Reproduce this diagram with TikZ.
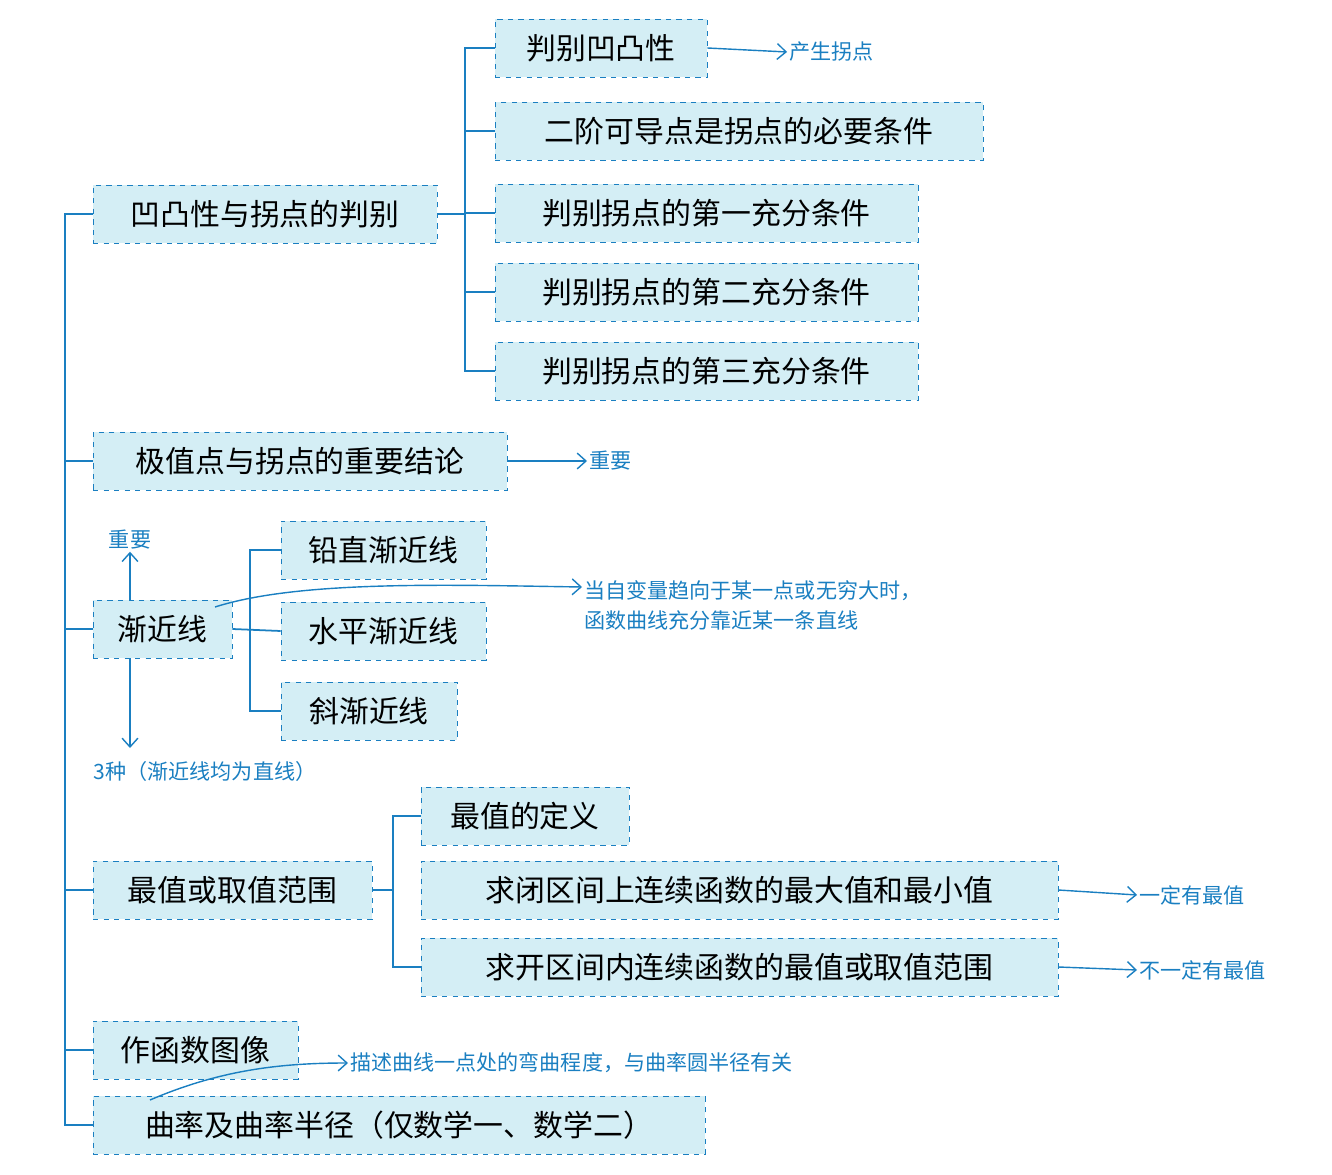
\documentclass[tikz,border=0pt]{standalone}
\usepackage{fontspec}
\setmainfont{Noto Sans CJK SC}
\usetikzlibrary{arrows.meta}
\definecolor{lineblue}{HTML}{1A7FC1}
\definecolor{boxfill}{HTML}{D4EEF5}
\tikzset{
  box/.style={draw=lineblue, dashed, fill=boxfill, minimum height=1.16cm, inner sep=2pt, font=\fontsize{17}{20}\selectfont},
  link/.style={draw=lineblue, line width=1pt},
  note/.style={-{Straight Barb[length=5pt,width=9pt]}, draw=lineblue, line width=0.8pt},
  notetext/.style={text=lineblue, font=\fontsize{12}{17}\selectfont, anchor=west, inner sep=1pt, align=left}
}
\begin{document}
\begin{tikzpicture}[x=0.02cm, y=-0.02cm]
  \useasboundingbox (0,0) rectangle (1332,1175);
  % main boxes
  \node[box, minimum width=6.88cm] (A) at (265,214) {凹凸性与拐点的判别};
  \node[box, minimum width=8.28cm] (B) at (300,461) {极值点与拐点的重要结论};
  \node[box, minimum width=2.78cm] (C) at (162.5,629) {渐近线};
  \node[box, minimum width=5.58cm] (D) at (232.5,890) {最值或取值范围};
  \node[box, minimum width=4.1cm] (E) at (195.5,1050) {作函数图像};
  \node[box, minimum width=12.24cm] (F) at (399,1125) {曲率及曲率半径（仅数学一、数学二）};
  % sub boxes
  \node[box, minimum width=4.24cm] (A1) at (601,48) {判别凹凸性};
  \node[box, minimum width=9.76cm] (A2) at (739,131) {二阶可导点是拐点的必要条件};
  \node[box, minimum width=8.46cm] (A3) at (706.5,213) {判别拐点的第一充分条件};
  \node[box, minimum width=8.46cm] (A4) at (706.5,292) {判别拐点的第二充分条件};
  \node[box, minimum width=8.46cm] (A5) at (706.5,371) {判别拐点的第三充分条件};
  \node[box, minimum width=4.1cm] (C1) at (383.5,550) {铅直渐近线};
  \node[box, minimum width=4.1cm] (C2) at (383.5,631) {水平渐近线};
  \node[box, minimum width=3.52cm] (C3) at (369,711) {斜渐近线};
  \node[box, minimum width=4.16cm] (D1) at (525,816) {最值的定义};
  \node[box, minimum width=12.74cm] (D2) at (739.5,890) {求闭区间上连续函数的最大值和最小值};
  \node[box, minimum width=12.74cm] (D3) at (739.5,967) {求开区间内连续函数的最值或取值范围};
  % trunks
  \coordinate (t0) at (65,0);
  \coordinate (tA) at (465,0);
  \coordinate (tC) at (250,0);
  \coordinate (tD) at (393,0);
  \draw[link] (A.west) -- (A.west -| t0) |- (F.west);
  \foreach \n in {B,C,D,E} \draw[link] (\n.west) -- (\n.west -| t0);
  \draw[link] (A1.west) -- (A1.west -| tA) |- (A5.west);
  \foreach \n in {A2,A3,A4} \draw[link] (\n.west) -- (\n.west -| tA);
  \draw[link] (A.east) -- (A.east -| tA);
  \draw[link] (C1.west) -- (C1.west -| tC) |- (C3.west);
  \draw[link] (C.east) -- (C2.west);
  \draw[link] (D1.west) -- (D1.west -| tD) |- (D3.west);
  \draw[link] (D.east) -- (D.east -| tD);
  % notes
  \node[notetext] (nA1) at (787,52) {产生拐点};
  \draw[note] (A1.east) -- (nA1.west);
  \node[notetext] (nB) at (587,461) {重要};
  \draw[note] (B.east) -- (nB.west);
  \node[notetext, anchor=center] (nCu) at (130,540) {重要};
  \draw[note] (C.north -| nCu) -- (nCu.south);
  \node[notetext, anchor=center] (nCd) at (205,771) {3种（渐近线均为直线）};
  \coordinate (cd) at (130,748);
  \draw[note] (C.south -| cd) -- (cd);
  \node[notetext] (nC) at (582,605) {当自变量趋向于某一点或无穷大时，\\函数曲线充分靠近某一条直线};
  \coordinate (cs) at (215,607);
  \draw[note] (cs) .. controls (300,580) and (450,585) .. (nC.west |- 0,587);
  \node[notetext] (nD2) at (1137,895) {一定有最值};
  \draw[note] (D2.east) -- (nD2.west);
  \node[notetext] (nD3) at (1137,970) {不一定有最值};
  \draw[note] (D3.east) -- (nD3.west);
  \node[notetext] (nF) at (348,1063) {描述曲线一点处的弯曲程度，与曲率圆半径有关};
  \coordinate (fs) at (150,1100);
  \draw[note] (fs) .. controls (220,1070) and (280,1063) .. (nF.west);
\end{tikzpicture}
\end{document}
